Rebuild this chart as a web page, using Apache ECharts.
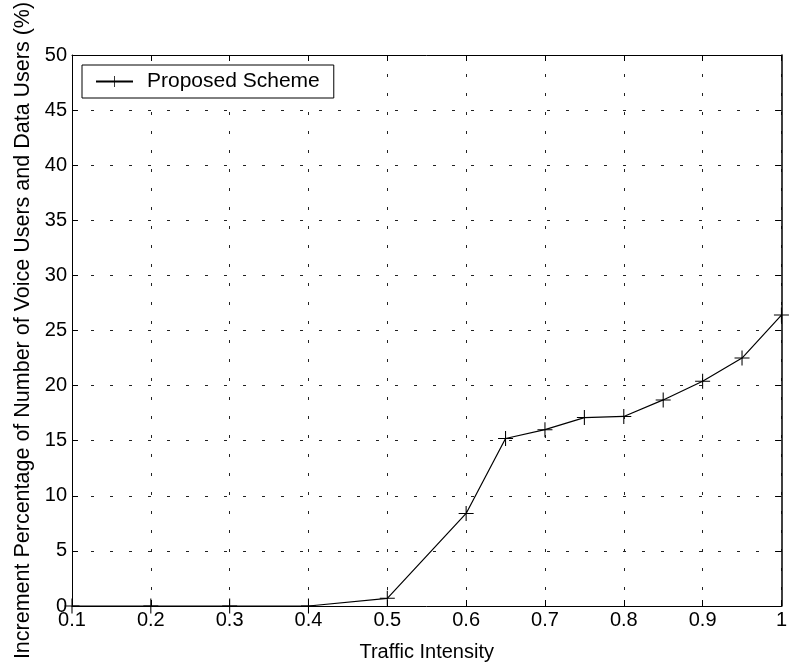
<!DOCTYPE html>
<html>
<head>
<meta charset="utf-8">
<script src="https://cdn.jsdelivr.net/npm/echarts@6/dist/echarts.min.js"></script>
<style>
  html, body { margin: 0; padding: 0; background: #fff; }
  #chart { width: 790px; height: 667px; }
</style>
</head>
<body>
<div id="chart"></div>
<script>
// Traffic intensity (x) and increment percentage (y) of the proposed scheme
const trafficIntensity = [0.1, 0.2, 0.3, 0.4, 0.5, 0.6, 0.65, 0.7, 0.75, 0.8, 0.85, 0.9, 0.95, 1.0];
const incrementPercent = [0, 0, 0, 0, 0.7, 8.4, 15.2, 16.0, 17.1, 17.2, 18.7, 20.4, 22.5, 26.4];
const seriesName = 'Proposed Scheme';
const xTitle = 'Traffic Intensity';
const yTitle = 'Increment Percentage of Number of Voice Users and Data Users (%)';

const FONT = '"Liberation Sans", Arial, Helvetica, sans-serif';
const plusSymbol = 'path://M-0.07,-1H0.07V-0.07H1V0.07H0.07V1H-0.07V0.07H-1V-0.07H-0.07Z';

const gridLine = { show: true, lineStyle: { color: '#222', width: 1, type: [3, 16] } };
const axisLine = { show: true, onZero: false, lineStyle: { color: '#000', width: 1 } };
const tick = { show: true, inside: true, length: 6, lineStyle: { color: '#000' } };

const chart = echarts.init(document.getElementById('chart'), null, { renderer: 'canvas' });
chart.setOption({
  backgroundColor: '#fff',
  animation: false,
  textStyle: { fontFamily: FONT },
  grid: { left: 72, right: 4, top: 55, bottom: 57 },
  legend: {
    left: 82, top: 65,
    orient: 'vertical',
    backgroundColor: '#fff',
    borderColor: '#000', borderWidth: 1,
    padding: [6, 14, 6, 13],
    itemWidth: 37, itemHeight: 14,
    textStyle: { fontFamily: FONT, fontSize: 21, color: '#000', padding: [0, 0, 0, 9] },
    data: [{ name: seriesName }]
  },
  xAxis: [
    {
      type: 'value', min: 0.1, max: 1, interval: 0.1,
      name: xTitle, nameLocation: 'middle', nameGap: 36,
      nameTextStyle: { fontFamily: FONT, fontSize: 20, color: '#000' },
      axisLine: axisLine, axisTick: tick,
      axisLabel: { fontFamily: FONT, fontSize: 20, color: '#000', margin: 4,
        formatter: v => (Math.round(v * 10) / 10).toString() },
      splitLine: gridLine
    },
    {
      type: 'value', position: 'top', min: 0.1, max: 1, interval: 0.1,
      axisLine: axisLine, axisTick: tick, axisLabel: { show: false }, splitLine: { show: false }
    }
  ],
  yAxis: [
    {
      type: 'value', min: 0, max: 50, interval: 5,
      name: yTitle, nameLocation: 'middle', nameGap: 37,
      nameTextStyle: { fontFamily: FONT, fontSize: 21.5, color: '#000' },
      axisLine: axisLine, axisTick: tick,
      axisLabel: { fontFamily: FONT, fontSize: 20, color: '#000', margin: 5 },
      splitLine: gridLine
    },
    {
      type: 'value', position: 'right', min: 0, max: 50, interval: 5,
      axisLine: { show: true, onZero: false, lineStyle: { color: '#000', width: 1.5 } },
      axisTick: tick, axisLabel: { show: false }, splitLine: { show: false }
    }
  ],
  series: [{
    name: seriesName,
    type: 'line',
    data: trafficIntensity.map((x, i) => [x, incrementPercent[i]]),
    symbol: plusSymbol,
    symbolSize: 15,
    showAllSymbol: true,
    lineStyle: { color: '#000', width: 1.2 },
    itemStyle: { color: '#000' },
    z: 5
  }]
});
</script>
</body>
</html>
